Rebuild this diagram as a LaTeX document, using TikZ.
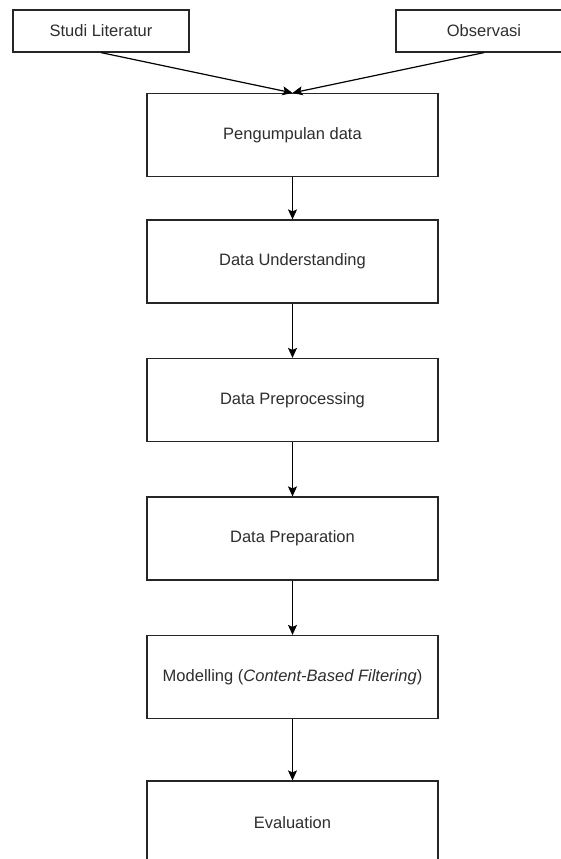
\documentclass[tikz,border=0pt]{standalone}
\usepackage{fontspec}
\setmainfont{Liberation Sans}
\usetikzlibrary{arrows.meta}
\begin{document}
\begin{tikzpicture}[x=1pt,y=-1pt,
  every node/.style={font=\fontsize{16.5}{20}\selectfont, text=black!82},
  srcbox/.style={draw=black!85, line width=1.2pt, minimum width=176pt, minimum height=42pt, inner sep=0pt},
  stagebox/.style={draw=black!85, line width=1.2pt, minimum width=291pt, minimum height=83pt, inner sep=0pt},
  flow/.style={draw=black, line width=1.2pt, -{Stealth[length=10pt,width=9pt,inset=2pt]}}]
  \useasboundingbox (0,0) rectangle (561,859);
  \clip (0,0) rectangle (561,859);
  \fill[white] (0,0) rectangle (561,859);

  % input sources
  \node[srcbox] (studi) at (101,31) {Studi Literatur};
  \node[srcbox] (obs) at (484,31) {Observasi};

  % process stages
  \node[stagebox] (kumpul) at (292.5,135) {Pengumpulan data};
  \node[stagebox] (understand) at (292.5,261.5) {Data Understanding};
  \node[stagebox] (preproc) at (292.5,400) {Data Preprocessing};
  \node[stagebox] (prep) at (292.5,538.5) {Data Preparation};
  \node[stagebox] (model) at (292.5,677) {Modelling (\textit{Content-Based Filtering})};
  \node[stagebox] (eval) at (292.5,822.5) {Evaluation};

  % connectors
  \draw[flow] (studi.south) -- (kumpul.north);
  \draw[flow] (obs.south) -- (kumpul.north);
  \draw[flow] (kumpul) -- (understand);
  \draw[flow] (understand) -- (preproc);
  \draw[flow] (preproc) -- (prep);
  \draw[flow] (prep) -- (model);
  \draw[flow] (model) -- (eval);
\end{tikzpicture}
\end{document}
